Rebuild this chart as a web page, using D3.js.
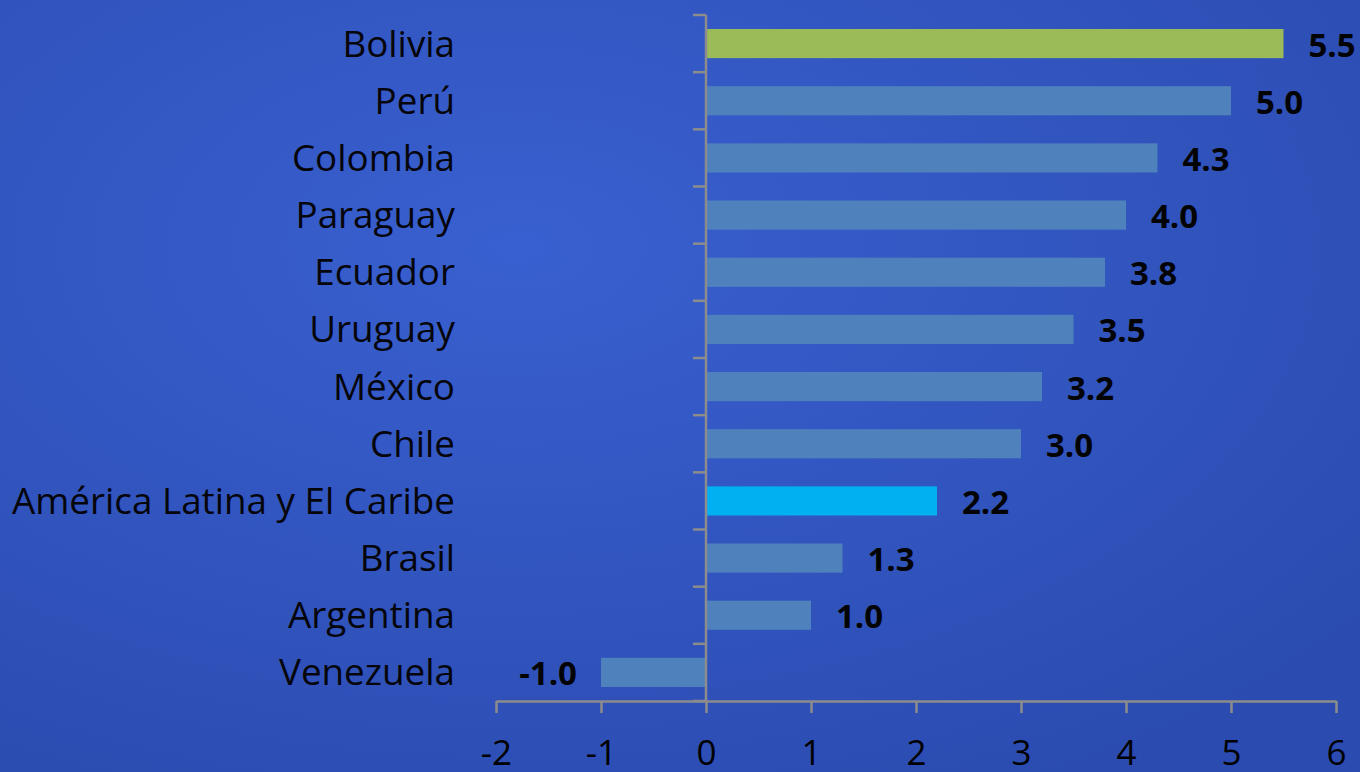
<!DOCTYPE html>
<html>
<head>
<meta charset="utf-8">
<script src="https://cdn.jsdelivr.net/npm/d3@7/dist/d3.min.js"></script>
<style>
  html, body { margin: 0; padding: 0; background: #2f52be; }
  svg { display: block; }
</style>
</head>
<body>
<svg id="chart" width="1360" height="772"></svg>
<script>
// Growth by country, percent
const countries = ["Bolivia", "Perú", "Colombia", "Paraguay", "Ecuador", "Uruguay",
  "México", "Chile", "América Latina y El Caribe", "Brasil", "Argentina", "Venezuela"];
const growth = [5.5, 5.0, 4.3, 4.0, 3.8, 3.5, 3.2, 3.0, 2.2, 1.3, 1.0, -1.0];
const xTicks = [-2, -1, 0, 1, 2, 3, 4, 5, 6];
const highlight = { "Bolivia": "#9bbb59", "América Latina y El Caribe": "#00b0f0" };
const baseColor = "#4f81bd";

const W = 1360, H = 772;
const svg = d3.select("#chart");

// background gradient
const defs = svg.append("defs");
const grad = defs.append("radialGradient").attr("id", "bg")
  .attr("cx", "0.38").attr("cy", "0.32").attr("r", "0.8");
grad.append("stop").attr("offset", "0%").attr("stop-color", "#3960d0");
grad.append("stop").attr("offset", "100%").attr("stop-color", "#2b4bb0");
svg.append("rect").attr("width", W).attr("height", H).attr("fill", "url(#bg)");

const x = d3.scaleLinear().domain([-2, 6]).range([496, 1336]);
const y = d3.scaleBand().domain(countries).range([15, 701]).paddingInner(0.49).paddingOuter(0.245);
const yTicks = d3.scaleBand().domain(countries).range([15, 701]);

const axisColor = "#8c8c8c";
const font = "'Open Sans', 'Noto Sans', sans-serif";

// bars
svg.append("g").selectAll("rect")
  .data(countries)
  .join("rect")
  .attr("x", (d, i) => x(Math.min(0, growth[i])))
  .attr("y", d => y(d))
  .attr("width", (d, i) => Math.abs(x(growth[i]) - x(0)))
  .attr("height", y.bandwidth())
  .attr("fill", d => highlight[d] || baseColor);

// vertical axis at zero with ticks on band boundaries
const gy = svg.append("g");
gy.append("line")
  .attr("x1", x(0)).attr("x2", x(0))
  .attr("y1", 15).attr("y2", 701)
  .attr("stroke", axisColor).attr("stroke-width", 2.5);
const bounds = countries.map(c => yTicks(c)).concat([701]);
gy.selectAll("line.tick").data(bounds).join("line")
  .attr("class", "tick")
  .attr("x1", x(0) - 13).attr("x2", x(0))
  .attr("y1", d => d).attr("y2", d => d)
  .attr("stroke", axisColor).attr("stroke-width", 2.5);

// horizontal axis
const gx = svg.append("g").attr("transform", "translate(0,701)")
  .call(d3.axisBottom(x).tickValues(xTicks).tickSize(12).tickSizeOuter(0)
    .tickFormat(d3.format("d")));
gx.select(".domain").attr("stroke", axisColor).attr("stroke-width", 2.5);
gx.selectAll(".tick line").attr("stroke", axisColor).attr("stroke-width", 2.5);
gx.selectAll(".tick text")
  .attr("fill", "#000").attr("font-size", 35).attr("font-family", font)
  .attr("y", 64).attr("dy", 0)
  .text(d => d < 0 ? "-" + Math.abs(d) : d);

// category labels
svg.append("g").selectAll("text")
  .data(countries)
  .join("text")
  .attr("x", 455)
  .attr("y", d => y(d) + y.bandwidth() / 2 + 13)
  .attr("text-anchor", "end")
  .attr("font-family", font)
  .attr("font-size", 36.8)
  .attr("fill", "#05050a")
  .text(d => d);

// value labels
svg.append("g").selectAll("text")
  .data(countries)
  .join("text")
  .attr("x", (d, i) => growth[i] < 0 ? x(growth[i]) - 24 : x(growth[i]) + 25)
  .attr("y", d => y(d) + y.bandwidth() / 2 + 13)
  .attr("text-anchor", (d, i) => growth[i] < 0 ? "end" : "start")
  .attr("font-family", font)
  .attr("font-weight", "bold")
  .attr("font-size", 33)
  .attr("fill", "#030303")
  .text((d, i) => d3.format(".1f")(growth[i]).replace("−", "-"));
</script>
</body>
</html>
